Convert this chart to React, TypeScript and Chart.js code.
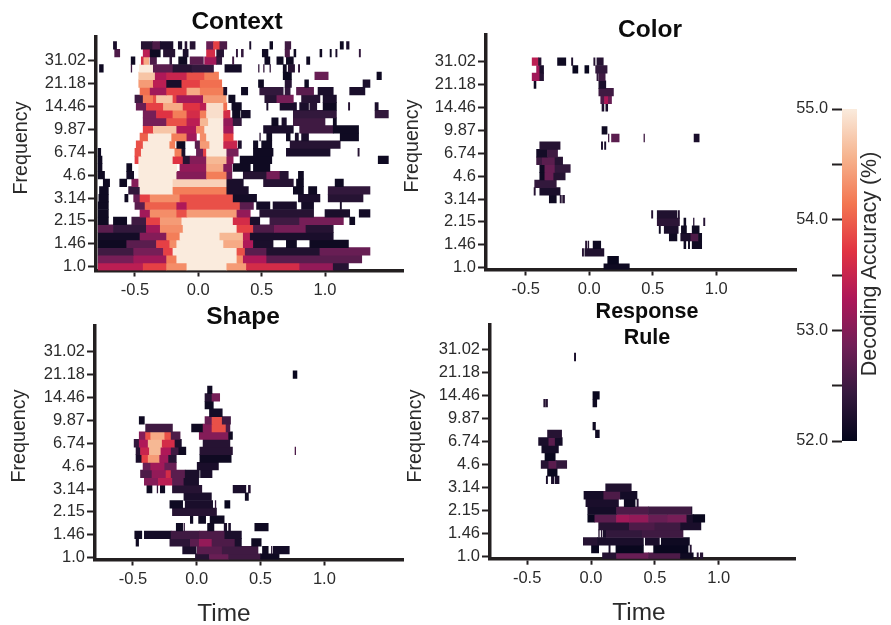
import React, { useEffect, useRef } from "react";
import { Chart, registerables } from "chart.js";

Chart.register(...registerables);

type Row = number[][];

const frequencyTicks = ["1.0", "1.46", "2.15", "3.14", "4.6", "6.74", "9.87", "14.46", "21.18", "31.02"];
const frequencyTickRows = [0, 3, 6, 9, 12, 15, 18, 21, 24, 27];
const timeTicks = [-0.5, 0, 0.5, 1];
const colorbarTicks = [52, 52.5, 53, 53.5, 54, 54.5, 55];

// every row, bottom to top: [start time, end time, decoding accuracy]
const contextRows: Row[] = [
  [[-.79,-.435,53.4],[-.435,-.25,53.8],[-.25,-.09,54.3],[-.09,.225,55],[.225,.38,54.4],[.38,.8,53.6],[.8,1.065,53.1],[1.065,1.185,52.3]],
  [[-.79,-.51,52.9],[-.51,-.25,53.2],[-.25,-.17,54.2],[-.17,.305,55],[.305,.355,54.3],[.355,.54,53.3],[.54,1.29,52.7]],
  [[-.79,-.51,52.5],[-.51,-.275,52.9],[-.275,-.2,53.8],[-.2,.305,55],[.305,.37,53.9],[.37,.54,52.7],[.54,.96,52.25],[.96,1.355,52.8]],
  [[-.79,-.565,52.1],[-.565,-.33,52.7],[-.33,-.225,53.8],[-.225,-.17,54.3],[-.17,.2,55],[.2,.355,54.5],[.355,.435,53.3],[.435,.59,52.2],[.695,.775,52.1],[.88,1.185,52.1]],
  [[-.79,-.46,52.15],[-.46,-.25,53],[-.25,-.145,54.2],[-.145,.17,55],[.17,.355,54.6],[.355,.41,53.4],[.41,1.065,52.2]],
  [[-.79,-.67,52.7],[-.67,-.41,52.4],[-.41,-.3,53.2],[-.3,-.12,54.3],[-.12,.305,55],[.305,.435,53.8],[.435,.6,52.6],[.6,.85,52.9],[.85,1.065,52.3]],
  [[-.79,-.71,52.1],[-.67,-.565,52.1],[-.525,-.41,52.5],[-.41,-.3,53.8],[-.3,-.13,54.4],[-.13,.275,55],[.275,.41,53.6],[.41,.485,52.2],[.565,.8,52.5],[.8,1.145,52.9],[1.195,1.235,52.1]],
  [[-.79,-.71,52.1],[-.46,-.38,53.2],[-.38,-.17,54.3],[-.17,-.09,53.9],[-.09,.305,54.4],[.305,.41,53.1],[.485,.91,52.3],[1,1.195,52.2],[1.27,1.355,52.15]],
  [[-.79,-.71,52.1],[-.5,-.42,52.7],[-.42,-.17,54],[-.17,-.09,53.3],[-.09,.33,53.9],[.33,.435,52.7],[.46,.565,52.15],[.59,.775,52.2],[.815,.91,52.15],[1.12,1.13,52.2]],
  [[-.785,-.71,52.1],[-.58,-.555,52.1],[-.51,-.46,52.8],[-.46,-.38,53.8],[-.38,-.145,54.3],[-.145,.275,53.9],[.275,.46,52.15],[.79,.96,52.2],[1.025,1.3,52.3]],
  [[-.78,-.71,52.1],[-.55,-.46,52.4],[-.46,-.2,55],[-.2,.225,54.2],[.225,.395,52.2],[.75,.83,52.1],[.87,.935,52.1],[1.025,1.355,52.4]],
  [[-.75,-.7,52.1],[-.62,-.565,52.1],[-.525,-.47,53],[-.47,-.2,55],[-.2,.225,54.8],[.225,.355,52.2],[.515,.75,52.3],[.775,.83,52.1],[1.08,1.145,52.1]],
  [[-.79,-.74,52.1],[-.565,-.51,52.15],[-.47,-.17,55],[-.17,.065,53],[.065,.225,54.2],[.225,.265,52.8],[.355,.54,52.3],[.54,.645,52.9],[.645,.71,52.3],[.79,.83,52.1]],
  [[-.79,-.76,52.1],[-.565,-.525,52.1],[-.47,-.17,55],[-.145,.065,53.1],[.065,.2,54.5],[.2,.265,53],[.275,.41,52.1],[.435,.565,52.1]],
  [[-.79,-.76,52.1],[-.5,-.47,53.8],[-.47,-.2,55],[-.2,-.12,53.7],[-.12,-.065,52.3],[-.065,.065,53],[.065,.225,54.6],[.225,.275,53.1],[.33,.58,52.1],[1.42,1.5,52.1]],
  [[-.79,-.77,52.1],[-.5,-.45,53.9],[-.45,-.185,55],[-.185,-.13,54.2],[-.13,-.105,52.2],[-.015,.04,52.8],[.04,.065,53.8],[.065,.225,55],[.225,.315,52.9],[.435,.59,52.1],[.695,1.04,52.2],[1.26,1.27,52.3]],
  [[-.49,-.435,53.9],[-.435,-.225,55],[-.225,-.185,54.2],[-.17,-.105,52.1],[-.025,.015,52.7],[.015,.09,54.4],[.09,.2,55],[.2,.305,53.5],[.315,.34,52.2],[.435,.47,52.1],[.5,.58,52.1],[.725,1.12,52.3]],
  [[-.46,-.395,54],[-.395,-.21,55],[-.21,-.09,54.2],[-.09,-.015,53.2],[.015,.065,54.3],[.065,.2,55],[.2,.275,53.8],[.485,.49,52.3],[.54,.58,52.1],[.695,.725,52.1],[.765,.79,52.2],[.815,.87,52.2],[1.12,1.265,52.1]],
  [[-.435,-.355,53.8],[-.355,-.17,54.7],[-.17,-.015,53.3],[-.015,.05,54.3],[.05,.2,55],[.2,.275,53.2],[.515,.75,52.2],[.8,1.065,52.5],[1.065,1.265,52.1]],
  [[-.435,-.25,52.9],[-.25,-.09,53.9],[-.09,.015,53.4],[.015,.08,54.6],[.08,.2,55],[.2,.275,53.1],[.275,.34,52.4],[.58,.63,52.1],[.66,.695,52.2],[.75,1,52.5],[1.065,1.09,52.1]],
  [[-.435,-.33,52.9],[-.33,-.2,53.7],[-.2,-.09,54.2],[-.09,.015,53.6],[.015,.065,54.2],[.065,.2,54.9],[.2,.25,53.6],[.27,.33,52.1],[.34,.41,52.15],[.75,1.09,52.4],[1.395,1.5,52.4]],
  [[-.49,-.41,52.8],[-.41,-.275,53.8],[-.275,-.12,54.5],[-.12,.015,53.7],[.015,.065,53.4],[.065,.2,54.9],[.2,.225,54.1],[.265,.34,52.1],[.54,.55,52.2],[.645,.775,52.2],[.8,.87,52.2],[.88,.935,52.3],[.985,1.09,52.1],[1.185,1.195,52.3],[1.395,1.42,52.2]],
  [[-.5,-.435,52.5],[-.435,-.355,54.2],[-.355,-.33,53.9],[-.33,-.2,54.7],[-.2,-.17,53.8],[-.17,.04,53.2],[.04,.22,54.4],[.24,.29,52.1],[.525,.62,52.3],[.62,.75,52.9],[.815,.96,52.3],[.985,1.09,52.2]],
  [[-.46,-.38,54.1],[-.38,-.25,53.2],[-.25,-.09,53.8],[-.09,.015,54.5],[.015,.2,54.2],[.2,.225,52.2],[.34,.39,52.1],[.485,.67,52.4],[.685,.725,52.4],[.775,.91,52.7],[.945,1.065,52.2],[1.195,1.315,52.2]],
  [[-.47,-.355,54.4],[-.355,-.25,53.4],[-.25,-.13,52.2],[-.13,.015,53.8],[.015,.185,54.1],[.475,.515,52.1],[.685,.735,52.3],[.84,.87,52.1],[1.3,1.355,52.2]],
  [[-.47,-.34,54.7],[-.34,-.25,53.3],[-.25,-.09,53.5],[-.09,.05,53.9],[.05,.16,54.2],[.67,.735,52.05],[.92,1.025,52.8],[1.41,1.445,52.1]],
  [[-.78,-.75,52.1],[-.53,-.525,52.5],[-.465,-.355,55],[-.355,-.2,52.7],[-.2,-.05,52.3],[-.05,.12,52.4],[.21,.34,52.15],[.475,.48,52.4],[.515,.52,52.4],[.565,.57,52.4],[.67,.695,52.1],[.71,.76,52.3],[.79,.8,52.4]],
  [[-.53,-.5,52.1],[-.45,-.43,53.6],[-.43,-.39,54.5],[-.38,-.33,52.6],[-.225,-.21,52.4],[-.155,-.09,52.1],[-.065,.04,52.7],[.05,.145,53.2],[.145,.185,52.4],[.27,.28,52.5],[.525,.565,52.1],[.62,.67,52.1],[.695,.75,52.1],[.855,.88,52.1]],
  [[-.66,-.62,52.6],[-.435,-.38,53.4],[-.38,-.3,52.1],[-.275,-.185,52.3],[-.12,-.08,52.2],[.065,.13,53.6],[.145,.2,52.3],[.3,.31,52.4],[.34,.355,52.4],[.505,.55,52.1],[.685,.72,52.6],[.755,.77,52.1],[.96,.975,52.1],[1.04,1.05,52.1],[1.085,1.095,52.2],[1.27,1.28,52.4]],
  [[-.67,-.645,52.2],[-.45,-.36,52.3],[-.36,-.3,52.6],[-.3,-.2,52.2],[-.158,-.13,52.2],[-.105,-.09,52.3],[-.065,-.025,52.3],[.065,.12,52.8],[.12,.17,53.8],[.17,.225,52.6],[.405,.415,52.2],[.565,.587,52.1],[.685,.73,52.5],[1.12,1.145,52.1],[1.17,1.19,52.2]],
];

const colorRows: Row[] = [
  [[.115,.315,52.1]],
  [[.145,.23,52.05]],
  [[-.055,-.045,52.3],[-.035,.115,52.25]],
  [[-.03,-.02,52.3],[-.01,0,52.3],[.03,.09,52.1],[.745,.76,52.1],[.78,.79,52.1],[.81,.885,52.1]],
  [[.63,.69,52.1],[.72,.8,52.2],[.8,.86,52.6],[.86,.885,52.1]],
  [[.55,.56,52.1],[.59,.7,52.2],[.725,.765,52.1],[.81,.865,52.1]],
  [[.535,.71,52.35],[.745,.76,52.1],[.82,.825,52.3],[.9,.91,52.3]],
  [[.49,.5,52.3],[.535,.69,52.25],[.7,.71,52.3]],
  [],
  [[-.315,-.26,52.1],[-.23,-.22,52.3],[-.21,-.195,52.3]],
  [[-.435,-.425,52.3],[-.39,-.23,52.2]],
  [[-.43,-.26,52.4]],
  [[-.39,-.35,52.1],[-.35,-.28,52.8],[-.28,-.19,52.3]],
  [[-.39,-.35,52.1],[-.35,-.27,52.8],[-.27,-.15,52.4]],
  [[-.415,-.37,52.5],[-.37,-.27,52.7],[-.27,-.21,52.3]],
  [[-.415,-.33,52.15],[-.33,-.25,52.5]],
  [[-.39,-.23,52.3],[.095,.105,52.2],[.12,.13,52.2]],
  [[.15,.155,52.5],[.175,.235,52.7],[.43,.435,52.5],[.825,.865,52.2]],
  [[.1,.14,52.1]],
  [],
  [],
  [[.1,.115,52.2],[.13,.145,52.2]],
  [[.09,.12,52.6],[.12,.15,53.3],[.15,.175,52.8]],
  [[.075,.19,52.5]],
  [[-.435,-.42,52.1],[.075,.13,52.2]],
  [[-.45,-.39,53.2],[-.39,-.36,52.3],[.06,.07,52.4],[.075,.125,52.5]],
  [[-.415,-.39,53.2],[-.39,-.36,52.2],[-.13,-.09,52.05],[-.035,0,52.05],[.05,.14,52.4]],
  [[-.45,-.4,53.4],[-.4,-.38,52.3],[-.25,-.185,52.1],[-.14,-.13,52.2],[.035,.045,52.3],[.06,.11,52.3]],
  [],
  [],
];

const shapeRows: Row[] = [
  [[-.01,.1,52.3],[.1,.25,52.8],[.25,.5,52.5],[.5,.645,52.1]],
  [[-.11,0,52.2],[0,.2,52.7],[.2,.48,52.5],[.515,.56,52.1],[.585,.59,52.3],[.6,.725,52.15]],
  [[-.475,-.455,52.1],[-.21,-.05,52.35],[-.05,.02,52.7],[.02,.12,53.1],[.12,.3,52.6],[.3,.35,52.2],[.43,.505,52.1]],
  [[-.485,-.43,52.1],[-.41,-.2,52.15],[-.2,.02,52.5],[.02,.22,52.6],[.22,.35,52.2]],
  [[-.16,-.11,52.1],[-.1,-.095,52.4],[.085,.135,52.1],[.215,.235,52.2],[.25,.265,52.2],[.455,.56,52.1]],
  [[-.05,-.03,52.1],[.015,.07,52.1],[.105,.215,52.1]],
  [[-.19,.155,52.3]],
  [[-.21,-.11,52.1],[-.09,.125,52.2],[.145,.15,52.4],[.22,.26,52.05]],
  [[-.1,.115,52.2],[.38,.405,52.1]],
  [[-.39,-.35,52.1],[-.31,-.305,52.4],[-.285,-.25,52.1],[-.19,.04,52.3],[.285,.385,52.2],[.405,.42,52.3]],
  [[-.41,-.3,53],[-.3,-.19,53.4],[-.19,-.1,52.7],[-.1,.015,52.2]],
  [[-.44,-.35,52.6],[-.35,-.24,53.1],[-.24,-.2,53.6],[-.2,-.09,52.7],[-.09,.02,52.2],[.03,.12,52.2]],
  [[-.42,-.36,52.8],[-.36,-.25,53.2],[-.25,-.16,52.8],[0,.17,52.2]],
  [[-.475,-.43,52.2],[-.43,-.38,53.8],[-.38,-.29,54.4],[-.29,-.22,53.2],[-.22,-.16,52.3],[.025,.27,52.1]],
  [[-.475,-.44,52.3],[-.44,-.37,53.5],[-.37,-.28,54.6],[-.28,-.2,53.3],[-.2,-.14,52.5],[-.14,-.085,52.1],[.025,.28,52.3],[.77,.775,52.6]],
  [[-.49,-.45,52.4],[-.45,-.38,53.3],[-.38,-.27,54.6],[-.27,-.17,53.6],[-.17,-.12,52.2],[.05,.26,52.3]],
  [[-.45,-.4,53],[-.4,-.36,53.9],[-.36,-.25,54.5],[-.25,-.2,53.9],[-.2,-.13,52.6],[.02,.25,53],[.25,.28,52.1]],
  [[-.4,-.19,52.5],[-.04,.05,52.1],[.05,.12,53],[.12,.23,53.9],[.23,.26,52.6]],
  [[-.45,-.41,52.1],[.065,.12,52.8],[.12,.2,53.9],[.2,.265,52.5]],
  [[.1,.2,52.15]],
  [[.065,.13,52.1]],
  [[.065,.12,52.3],[.12,.18,52.9]],
  [[.085,.12,52.1]],
  [],
  [[.755,.785,52.05]],
  [],
  [],
  [],
  [],
  [],
];

const ruleRows: Row[] = [
  [[.09,.2,52.3],[.2,.45,52.8],[.45,.7,52.6],[.7,.8,52.1],[.83,.84,52.3],[.855,.875,52.3]],
  [[0,.06,52.05],[.14,.15,52.2],[.195,.41,52.05],[.49,.76,52.05],[.775,.785,52.3]],
  [[-.06,.05,52.3],[.05,.41,52.2],[.425,.535,52.2],[.55,.77,52.1]],
  [[.06,.065,52.3],[.08,.085,52.3],[.095,.115,52.2],[.12,.4,52.4],[.4,.72,52.5]],
  [[.06,.3,52.3],[.3,.5,52.6],[.5,.7,52.5],[.7,.86,52.2]],
  [[-.025,.03,52.05],[.03,.2,52.7],[.2,.3,53.2],[.3,.45,53.1],[.45,.6,52.8],[.6,.75,52.9],[.75,.8,52.2],[.8,.89,52.05]],
  [[-.025,.2,52.15],[.2,.45,52.6],[.45,.78,52.5],[.785,.79,52.3]],
  [[-.04,.215,52.2],[.26,.345,52.1],[.36,.37,52.3]],
  [[-.055,.1,52.15],[.1,.23,52.6],[.23,.36,52.15]],
  [[.115,.315,52.25]],
  [[-.35,-.34,52.2],[-.31,-.29,52.2],[-.28,-.25,52.2]],
  [[-.34,-.265,52.05]],
  [[-.39,-.33,52.3],[-.33,-.27,52.7],[-.27,-.19,52.4]],
  [[-.36,-.28,52.05]],
  [[-.385,-.255,52.15]],
  [[-.41,-.33,52.2],[-.33,-.28,52.7],[-.28,-.225,52.15]],
  [[-.34,-.23,52.3],[.035,.065,52.1]],
  [[.015,.035,52.1]],
  [],
  [],
  [[-.37,-.36,52.3],[-.355,-.34,52.3],[.015,.045,52.1]],
  [[.015,.065,52.05]],
  [],
  [],
  [],
  [],
  [[-.13,-.12,52.2]],
  [],
  [],
  [],
];

const rocketStops = ["#03051a", "#35193e", "#701f57", "#ad1759", "#e13342", "#f37651", "#f6b48f", "#faebdd"];
const rocketRgb = rocketStops.map((h) => [1, 3, 5].map((i) => parseInt(h.slice(i, i + 2), 16)));

function rocket(value: number): string {
  const t = Math.min(1, Math.max(0, (value - 52) / 3)) * (rocketRgb.length - 1);
  const i = Math.min(rocketRgb.length - 2, Math.floor(t));
  const f = t - i;
  const c = rocketRgb[i].map((a, k) => Math.round(a + (rocketRgb[i + 1][k] - a) * f));
  return `rgb(${c[0]},${c[1]},${c[2]})`;
}

const INK = "#231f20";
const LABEL = "#2b2b2b";
const FAMILY = "'Liberation Sans', Arial, sans-serif";

type Panel = {
  rows: Row[];
  title: string[];
  titleX: number;
  titleY: number;
  titleSize: number;
  titleLine: number;
  cLeft: number;
  cTop: number;
  cBottom: number;
  left: number;
  right: number;
  top: number;
  bottom: number;
  zeroPx: number;
  unitPx: number;
  r0Px: number;
  rowPx: number;
  yTitleX: number;
  yTitleY: number;
  timeX?: number;
  timeY?: number;
};

const panels: Panel[] = [
  { rows: contextRows, title: ["Context"], titleX: 237, titleY: 22, titleSize: 24.5, titleLine: 24.5, cLeft: 0, cTop: 0, cBottom: 300, left: 96, right: 404, top: 37, bottom: 270.5, zeroPx: 198.3, unitPx: 126.7, r0Px: 266.7, rowPx: 7.63, yTitleX: 22, yTitleY: 148 },
  { rows: colorRows, title: ["Color"], titleX: 650, titleY: 30, titleSize: 24.5, titleLine: 24.5, cLeft: 390, cTop: 0, cBottom: 300, left: 486, right: 797, top: 35, bottom: 269.5, zeroPx: 589.3, unitPx: 127, r0Px: 267.7, rowPx: 7.63, yTitleX: 413, yTitleY: 146 },
  { rows: shapeRows, title: ["Shape"], titleX: 243, titleY: 317, titleSize: 24.5, titleLine: 24.5, cLeft: 0, cTop: 296, cBottom: 625, left: 95, right: 404, top: 326, bottom: 559.5, zeroPx: 196.7, unitPx: 127.7, r0Px: 557.7, rowPx: 7.63, yTitleX: 20, yTitleY: 436, timeX: 224, timeY: 614 },
  { rows: ruleRows, title: ["Response", "Rule"], titleX: 647, titleY: 312, titleSize: 21.5, titleLine: 26, cLeft: 394, cTop: 296, cBottom: 625, left: 490, right: 796, top: 325, bottom: 558.7, zeroPx: 591, unitPx: 127.8, r0Px: 556.7, rowPx: 7.68, yTitleX: 416, yTitleY: 436, timeX: 639, timeY: 613 },
];

function shiftTitle(scale: any, dx: number, dy: number) {
  const base = Object.getPrototypeOf(scale).drawTitle;
  scale.drawTitle = function () {
    const ctx = this.ctx;
    ctx.save();
    ctx.translate(dx, dy);
    base.call(this);
    ctx.restore();
  };
}

function makePanel(canvas: HTMLCanvasElement, p: Panel) {
  const data: any[] = [];
  const colors: string[] = [];
  p.rows.forEach((spans, r) => {
    spans.forEach(([a, b, v]) => {
      data.push({ x: [a, b], y: r });
      colors.push(rocket(v));
    });
  });
  const titleHeight = p.title.length * p.titleLine;
  const padTop = p.titleY - p.cTop - p.titleLine / 2;
  const padBottom = p.top - p.cTop - titleHeight - padTop;
  const ticksFont = { family: FAMILY, size: 16.5 };

  return new Chart(canvas, {
    type: "bar",
    data: {
      datasets: [
        {
          data,
          backgroundColor: colors,
          barThickness: p.rowPx,
          grouped: false,
          borderWidth: 0,
        } as any,
      ],
    },
    options: {
      animation: false,
      responsive: false,
      indexAxis: "y",
      layout: { padding: 0 },
      plugins: {
        legend: { display: false },
        tooltip: { enabled: false },
        title: {
          display: true,
          text: p.title,
          color: "#0c0c0c",
          font: { family: FAMILY, size: p.titleSize, weight: "bold", lineHeight: p.titleLine / p.titleSize },
          padding: { top: padTop, bottom: padBottom },
        },
      },
      scales: {
        x: {
          type: "linear",
          offset: false,
          min: (p.left - p.zeroPx) / p.unitPx,
          max: (p.right - p.zeroPx) / p.unitPx,
          afterBuildTicks: (s: any) => {
            s.ticks = timeTicks.map((value) => ({ value }));
          },
          afterFit: (s: any) => {
            s.height = p.cBottom - p.bottom;
          },
          ticks: {
            color: LABEL,
            font: ticksFont,
            padding: 4,
            maxRotation: 0,
            autoSkip: false,
            callback: (v: any) => Number(v).toFixed(1),
          },
          grid: { offset: false, drawOnChartArea: false, drawTicks: true, tickLength: 6, tickWidth: 2, tickColor: INK },
          border: { display: true, width: 3.5, color: INK },
          title: {
            display: p.timeX !== undefined,
            text: "Time",
            color: LABEL,
            font: { family: FAMILY, size: 24.4 },
            padding: 0,
          },
        },
        y: {
          type: "linear",
          offset: false,
          min: (p.r0Px - p.bottom) / p.rowPx,
          max: (p.r0Px - p.top) / p.rowPx,
          afterBuildTicks: (s: any) => {
            s.ticks = frequencyTickRows.map((value) => ({ value }));
          },
          afterFit: (s: any) => {
            s.width = p.left - p.cLeft;
          },
          ticks: {
            color: LABEL,
            font: ticksFont,
            padding: 2,
            autoSkip: false,
            callback: (v: any) => frequencyTicks[frequencyTickRows.indexOf(Number(v))],
          },
          grid: { offset: false, drawOnChartArea: false, drawTicks: true, tickLength: 8, tickWidth: 2, tickColor: INK },
          border: { display: true, width: 3.5, color: INK },
          title: {
            display: true,
            text: "Frequency",
            color: LABEL,
            font: { family: FAMILY, size: 19.7 },
            padding: 0,
          },
        },
      },
    } as any,
    plugins: [
      {
        id: "pinTexts",
        afterLayout(chart: any) {
          const t = chart.titleBlock;
          t.left = p.titleX - p.cLeft - 120;
          t.right = p.titleX - p.cLeft + 120;
          const lh = 19.7 * 1.2;
          const yMid = (p.top + p.bottom) / 2;
          shiftTitle(chart.scales.y, p.yTitleX - p.cLeft - lh / 2, p.yTitleY - yMid);
          if (p.timeX !== undefined) {
            const xMid = (p.left + p.right) / 2;
            const bottomOffset = (24.4 * 1.2) / 2;
            shiftTitle(chart.scales.x, p.timeX - xMid, (p.timeY as number) - (p.cBottom - bottomOffset));
          }
        },
      },
    ],
  });
}

function makeColorbar(canvas: HTMLCanvasElement) {
  const left = 760;
  const barLeft = 842;
  const barRight = 857;
  const top = 90;
  const barTop = 109;
  const barBottom = 441;
  const height = 370;
  const lh = 21.5 * 1.2;
  return new Chart(canvas, {
    type: "bar",
    data: {
      labels: ["Decoding Accuracy (%)"],
      datasets: [
        {
          data: [[52, 55]],
          barPercentage: 1,
          categoryPercentage: 1,
          borderWidth: 0,
          backgroundColor: (c: any) => {
            const area = c.chart.chartArea;
            if (!area) return rocketStops[0];
            const g = c.chart.ctx.createLinearGradient(0, area.bottom, 0, area.top);
            rocketStops.forEach((s, i) => g.addColorStop(i / (rocketStops.length - 1), s));
            return g;
          },
        } as any,
      ],
    },
    options: {
      animation: false,
      responsive: false,
      layout: { padding: { top: barTop - top, bottom: top + height - barBottom, right: left + 131 - barRight, left: 0 } },
      plugins: { legend: { display: false }, tooltip: { enabled: false } },
      scales: {
        x: { display: false },
        y: {
          type: "linear",
          min: 52,
          max: 55,
          afterBuildTicks: (s: any) => {
            s.ticks = colorbarTicks.map((value) => ({ value }));
          },
          afterFit: (s: any) => {
            s.width = barLeft - left;
          },
          ticks: {
            color: LABEL,
            font: { family: FAMILY, size: 16.3 },
            padding: 4,
            autoSkip: false,
            callback: (v: any) => (Number.isInteger(Number(v)) ? Number(v).toFixed(1) : ""),
          },
          grid: { drawOnChartArea: false, drawTicks: true, tickLength: 10, tickWidth: 2, tickColor: INK },
          border: { display: false },
          title: {
            display: true,
            text: "Decoding Accuracy (%)",
            color: LABEL,
            font: { family: FAMILY, size: 21.5 },
            padding: 0,
          },
        },
      },
    } as any,
    plugins: [
      {
        id: "pinTitle",
        afterLayout(chart: any) {
          shiftTitle(chart.scales.y, 870 - left - lh / 2, 264 - (barTop + barBottom) / 2);
        },
      },
    ],
  });
}

function PanelCanvas({ p }: { p: Panel }) {
  const ref = useRef<HTMLCanvasElement>(null);
  useEffect(() => {
    const chart = makePanel(ref.current as HTMLCanvasElement, p);
    return () => chart.destroy();
  }, [p]);
  return (
    <canvas
      ref={ref}
      width={p.right - p.cLeft}
      height={p.cBottom - p.cTop}
      style={{ position: "absolute", left: p.cLeft, top: p.cTop, display: "block" }}
    />
  );
}

function ColorbarCanvas() {
  const ref = useRef<HTMLCanvasElement>(null);
  useEffect(() => {
    const chart = makeColorbar(ref.current as HTMLCanvasElement);
    return () => chart.destroy();
  }, []);
  return (
    <canvas
      ref={ref}
      width={131}
      height={370}
      style={{ position: "absolute", left: 760, top: 90, display: "block" }}
    />
  );
}

export default function App() {
  return (
    <div style={{ position: "fixed", left: 0, top: 0, width: 891, height: 625, overflow: "hidden", background: "#fff" }}>
      {panels.map((p) => (
        <PanelCanvas key={p.title[0]} p={p} />
      ))}
      <ColorbarCanvas />
    </div>
  );
}
